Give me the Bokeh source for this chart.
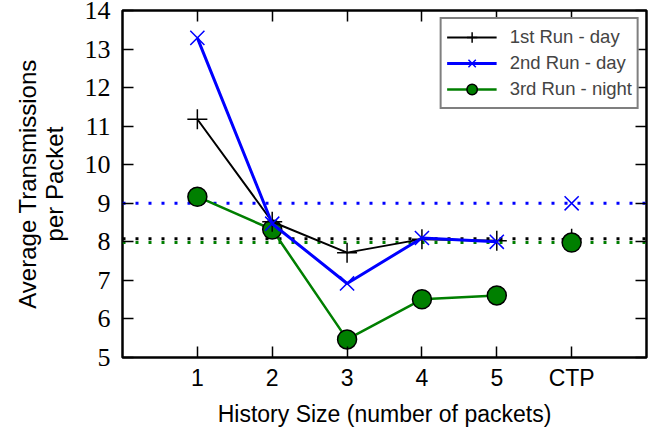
from bokeh.plotting import figure
from bokeh.models import LinearAxis, FixedTicker, Span, Legend
from bokeh.embed import file_html
from bokeh.resources import INLINE

# ---- data ----
categories = ["1", "2", "3", "4", "5", "CTP"]
history_x = [1, 2, 3, 4, 5]
ctp_x = [6]
run1_day = [11.18, 8.52, 7.72, 8.07, 8.03]
run2_day = [13.29, 8.47, 6.92, 8.10, 8.00]
run3_night = [9.17, 8.32, 5.47, 6.51, 6.61]
run1_ctp = [8.08]
run2_ctp = [9.00]
run3_ctp = [7.98]
y_ticks = [5, 6, 7, 8, 9, 10, 11, 12, 13, 14]

BLUE = "#0000ff"
GREEN = "#007f00"
BLACK = "#000000"

p = figure(width=652, height=429, x_range=(0, 7), y_range=(5, 14),
           output_backend="svg", toolbar_location=None,
           min_border_left=122, min_border_right=6,
           min_border_top=10, min_border_bottom=71)
p.background_fill_color = "white"
p.border_fill_color = "white"
p.xgrid.visible = False
p.ygrid.visible = False
p.outline_line_color = "black"
p.outline_line_width = 2.5

# reference (CTP) dotted lines
for val, col in [(run2_ctp[0], BLUE), (run1_ctp[0], BLACK), (run3_ctp[0], GREEN)]:
    p.add_layout(Span(location=val, dimension="width", line_color=col,
                      line_width=3, line_dash="3 10", level="underlay"))

# main series
l3 = p.line(history_x, run3_night, line_color=GREEN, line_width=2.5)
s3 = p.scatter(history_x, run3_night, marker="circle", size=19,
               fill_color=GREEN, line_color="black", line_width=1.5)
l1 = p.line(history_x, run1_day, line_color=BLACK, line_width=2)
s1 = p.scatter(history_x, run1_day, marker="cross", size=20,
               line_color=BLACK, line_width=1.5)
l2 = p.line(history_x, run2_day, line_color=BLUE, line_width=3)
s2 = p.scatter(history_x, run2_day, marker="x", size=20,
               line_color=BLUE, line_width=1.5)

# CTP points
p.scatter(ctp_x, run1_ctp, marker="cross", size=20, line_color=BLACK, line_width=1.5)
p.scatter(ctp_x, run2_ctp, marker="x", size=20, line_color=BLUE, line_width=1.5)
p.scatter(ctp_x, run3_ctp, marker="circle", size=19, fill_color=GREEN,
          line_color="black", line_width=1.5)

# axes
xt = [1, 2, 3, 4, 5, 6]
p.xaxis.ticker = FixedTicker(ticks=xt)
p.xaxis.major_label_overrides = {x: c for x, c in zip(xt, categories)}
p.yaxis.ticker = FixedTicker(ticks=y_ticks)
for ax in (p.xaxis[0], p.yaxis[0]):
    ax.axis_line_color = None
    ax.major_tick_in = 11
    ax.major_tick_out = 0
    ax.major_tick_line_width = 1.5
    ax.minor_tick_line_color = None
    ax.axis_label_text_font = "Liberation Sans"
    ax.axis_label_text_font_style = "normal"
    ax.axis_label_text_color = "black"
    ax.major_label_text_color = "black"

p.xaxis.major_label_text_font = "Liberation Sans"
p.xaxis.major_label_text_font_size = "23px"
p.xaxis.major_label_standoff = 7
p.xaxis.axis_label = "History Size (number of packets)"
p.xaxis.axis_label_text_font_size = "23px"
p.xaxis.axis_label_standoff = 7

p.yaxis.major_label_text_font = "Liberation Serif"
p.yaxis.major_label_text_font_size = "26px"
p.yaxis.major_label_standoff = 12
p.yaxis.axis_label = "Average Transmissions\nper Packet"
p.yaxis.axis_label_text_font_size = "24px"
p.yaxis.axis_label_text_line_height = 1.0
p.yaxis.axis_label_standoff = 14

top = LinearAxis(ticker=FixedTicker(ticks=xt), axis_line_color=None,
                 major_tick_in=11, major_tick_out=0, major_tick_line_width=1.5,
                 minor_tick_line_color=None,
                 major_label_overrides={t: "" for t in xt},
                 major_label_text_font_size="1px", major_label_standoff=0)
p.add_layout(top, "above")
right = LinearAxis(ticker=FixedTicker(ticks=y_ticks), axis_line_color=None,
                   major_tick_in=11, major_tick_out=0, major_tick_line_width=1.5,
                   minor_tick_line_color=None,
                   major_label_overrides={t: "" for t in y_ticks},
                   major_label_text_font_size="1px", major_label_standoff=0)
p.add_layout(right, "right")

legend = Legend(items=[("1st Run - day", [l1, s1]),
                       ("2nd Run - day", [l2, s2]),
                       ("3rd Run - night", [l3, s3])],
                location="top_right")
legend.margin = 7
legend.padding = 5
legend.spacing = 0
legend.glyph_width = 50
legend.glyph_height = 26
legend.label_height = 26
legend.label_standoff = 13
legend.label_text_font = "Liberation Sans"
legend.label_text_font_size = "18.5px"
legend.border_line_color = "black"
legend.border_line_width = 2.5
legend.background_fill_alpha = 1
p.add_layout(legend, "center")

open("out.html", "w").write(file_html(p, INLINE))
